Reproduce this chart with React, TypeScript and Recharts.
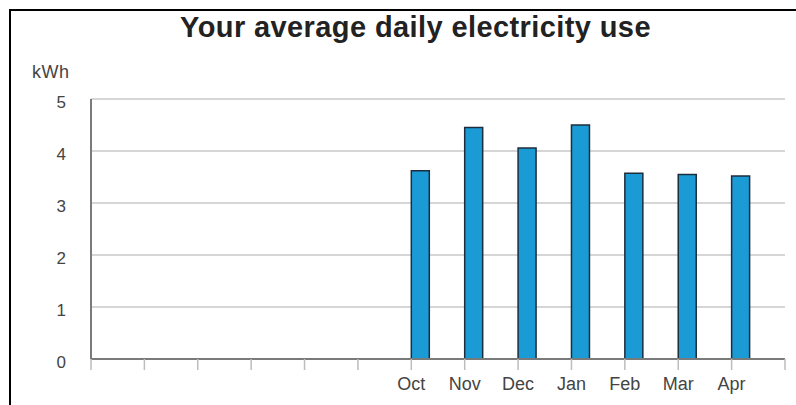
import React from 'react';
import { BarChart, Bar, XAxis, YAxis, CartesianGrid } from 'recharts';

// Thirteen monthly slots; the first six have no readings yet.
const months = ['', '', '', '', '', '', 'Oct', 'Nov', 'Dec', 'Jan', 'Feb', 'Mar', 'Apr'];
const dailyKwh: (number | null)[] = [null, null, null, null, null, null, 3.62, 4.45, 4.06, 4.5, 3.57, 3.55, 3.52];
const yTicks = [0, 1, 2, 3, 4, 5];
const slotTicks = [0, 1, 2, 3, 4, 5, 6, 7, 8, 9, 10, 11, 12, 13];

const data = months.map((month, i) => ({ slot: i, month, use: dailyKwh[i] }));

const FONT = '"Liberation Sans", Arial, Helvetica, sans-serif';
const W = 796;
const H = 405;

export default function App() {
  return (
    <div style={{ position: 'absolute', left: 0, top: 0, width: W, height: H, background: '#fff', overflow: 'hidden' }}>
      <BarChart
        width={W}
        height={H}
        data={data}
        margin={{ top: 99, right: 11, bottom: 1, left: 0 }}
        barCategoryGap={0}
        barGap={0}
        style={{ fontFamily: FONT }}
      >
        <CartesianGrid xAxisId="slots" vertical={false} stroke="#c9c9c9" strokeWidth={1.5} />
        {/* hidden band axis that lays the bars out inside each slot */}
        <XAxis xAxisId="bars" dataKey="slot" type="category" hide height={0} />
        {/* visible axis: tick marks on the slot boundaries, month names under them */}
        <XAxis
          xAxisId="slots"
          dataKey="slot"
          type="number"
          domain={[0, 13]}
          ticks={slotTicks}
          allowDataOverflow
          interval={0}
          height={45}
          tickFormatter={(v: number) => months[v] ?? ''}
          axisLine={{ stroke: '#7a7a7a', strokeWidth: 2 }}
          tickLine={{ stroke: '#bdbdbd', strokeWidth: 1.5 }}
          tickSize={11}
          tickMargin={7}
          tick={{ fill: '#444', fontSize: 18, fontFamily: FONT }}
        />
        <YAxis
          domain={[0, 5]}
          ticks={yTicks}
          width={91}
          axisLine={{ stroke: '#7a7a7a', strokeWidth: 2 }}
          tickLine={false}
          tickSize={0}
          tickMargin={25}
          tick={{ fill: '#444', fontSize: 17, fontFamily: FONT, dy: 3 }}
        />
        <Bar
          xAxisId="bars"
          dataKey="use"
          fill="#1b9bd6"
          stroke="#1d2d3c"
          strokeWidth={1.5}
          isAnimationActive={false}
        />
        <Bar xAxisId="bars" dataKey="spacerA" fill="none" isAnimationActive={false} />
        <Bar xAxisId="bars" dataKey="spacerB" fill="none" isAnimationActive={false} />
      </BarChart>
      <svg
        width={W}
        height={H}
        style={{ position: 'absolute', left: 0, top: 0, pointerEvents: 'none' }}
      >
        <line x1={9} y1={10} x2={W} y2={10} stroke="#000" strokeWidth={2} />
        <line x1={10} y1={9} x2={10} y2={H} stroke="#000" strokeWidth={2} />
        <text
          x={415.5}
          y={37}
          textAnchor="middle"
          fontFamily={FONT}
          fontWeight="bold"
          fontSize={29}
          letterSpacing={0.4}
          fill="#222"
        >
          Your average daily electricity use
        </text>
        <text x={32} y={78} fontFamily={FONT} fontSize={18} letterSpacing={0.5} fill="#444">
          kWh
        </text>
      </svg>
    </div>
  );
}
